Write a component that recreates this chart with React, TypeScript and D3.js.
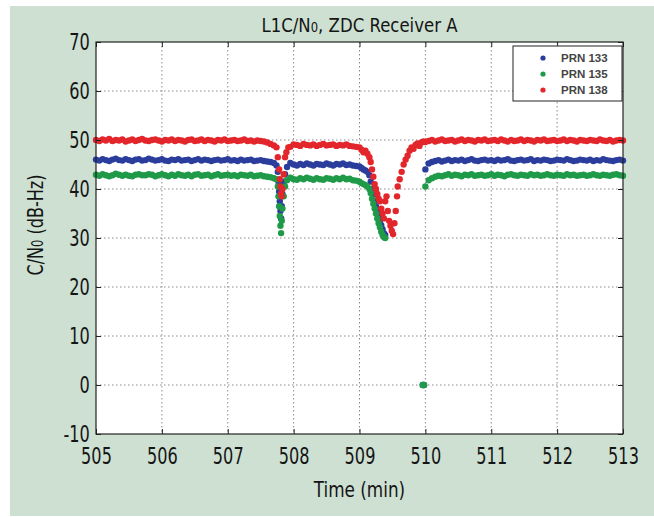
import React, { useEffect, useRef } from "react";
import * as d3 from "d3";

// tick labels and series names
const xTicks = [505, 506, 507, 508, 509, 510, 511, 512, 513];
const yTicks = [-10, 0, 10, 20, 30, 40, 50, 60, 70];
const seriesNames = ["PRN 133", "PRN 135", "PRN 138"];
const seriesColors = ["#2b3d9c", "#1f9a48", "#e3262b"];

// samples every 0.05 min from 505.00 to 513.00 (null = no steady sample there)
const sampleStart = 505;
const sampleStep = 0.05;

const prn133 = [
  46.0, 45.8, 46.1, 45.9, 45.7, 46.0, 46.2, 45.9, 45.8, 46.1,
  45.9, 45.7, 46.0, 46.1, 45.8, 45.9, 46.2, 46.0, 45.8, 45.9,
  46.1, 45.8, 45.7, 46.0, 45.9, 46.1, 45.8, 45.9, 46.0, 45.7,
  45.9, 46.1, 45.8, 46.0, 45.9, 45.7, 45.9, 46.0, 45.8, 45.9,
  46.1, 45.8, 45.9, 45.7, 46.0, 45.8, 45.9, 46.0, 45.7, 45.8,
  45.9, 45.7, 45.6, 45.5, 45.3,
  null, null, null, null,
  45.3, 45.0, 44.8, 45.1, 44.9, 45.2, 45.0, 44.8, 45.1, 45.0,
  44.9, 45.2, 45.0, 44.8, 45.1, 45.0, 45.2, 44.9, 45.0, 44.8, 44.7,
  null, null, null, null, null, null, null, null, null, null,
  null, null, null, null, null, null, null, null, null, null,
  44.0, 45.2, 45.5, 45.7, 45.9, 45.6, 45.8, 46.0, 45.7, 45.9,
  45.8, 46.0, 45.7, 45.9, 46.1, 45.8, 45.7, 45.9, 46.0, 45.8,
  45.9, 45.7, 46.0, 45.8, 45.9, 46.1, 45.8, 45.7, 45.9, 46.0,
  45.8, 45.9, 46.1, 45.7, 45.9, 45.8, 46.0, 45.9, 45.7, 45.8,
  46.0, 45.9, 45.8, 46.1, 45.9, 45.7, 45.8, 46.0, 45.9, 45.8,
  46.0, 45.7, 45.9, 45.8, 46.1, 45.9, 45.8, 45.7, 45.9, 46.0, 45.8,
];

const prn135 = [
  42.9, 42.7, 43.0, 42.8, 42.6, 42.8, 43.1, 42.9, 42.7, 42.9,
  42.7, 42.6, 42.9, 43.0, 42.8, 42.8, 43.0, 42.9, 42.6, 42.8,
  43.0, 42.8, 42.6, 42.9, 42.7, 43.0, 42.8, 42.7, 42.9, 42.6,
  42.9, 43.0, 42.7, 42.8, 42.9, 42.6, 42.8, 43.0, 42.7, 42.8,
  42.9, 42.7, 42.8, 42.6, 42.9, 42.8, 42.7, 42.9, 42.6, 42.7,
  42.8, 42.6, 42.5, 42.4, 42.2,
  null, null, null, null,
  42.3, 42.0, 41.9, 42.2, 42.0, 42.3, 42.1, 41.9, 42.2, 42.0,
  41.9, 42.2, 42.1, 41.9, 42.2, 42.0, 42.3, 42.0, 42.1, 41.8, 41.7,
  null, null, null, null, null, null, null, null, null, null,
  null, null, null, null, null, null, null, null, null, null,
  40.5, 41.8, 42.2, 42.5, 42.7, 42.6, 42.8, 43.0, 42.7, 42.9,
  42.8, 42.6, 42.9, 42.8, 43.0, 42.7, 42.8, 42.9, 42.7, 42.8,
  43.0, 42.7, 42.9, 42.8, 42.6, 42.9, 43.0, 42.8, 42.7, 42.9,
  42.8, 42.7, 43.0, 42.8, 42.9, 42.7, 42.8, 43.0, 42.8, 42.7,
  42.9, 42.8, 42.7, 43.0, 42.8, 42.9, 42.7, 42.8, 42.9, 42.7,
  42.8, 43.0, 42.8, 42.7, 42.9, 42.8, 42.7, 42.9, 43.0, 42.8, 42.7,
];

const prn138 = [
  50.0, 49.8, 50.1, 49.9, 50.2, 49.8, 50.0, 49.9, 50.1, 49.7,
  49.9, 50.1, 49.8, 50.0, 50.2, 49.9, 49.8, 50.0, 50.1, 49.9,
  49.7, 50.0, 49.9, 50.1, 49.8, 50.0, 49.9, 49.7, 50.0, 50.1,
  49.8, 49.9, 50.1, 49.8, 50.0, 49.9, 49.7, 50.0, 49.9, 50.1,
  49.8, 49.9, 50.0, 49.8, 49.9, 50.1, 49.8, 49.9, 49.7, 49.9,
  49.8, 49.7, 49.5, 49.2, 48.9,
  null, null, null, null,
  48.6, 49.1, 49.0, 48.8, 49.2, 49.0, 48.9, 49.1, 48.8, 49.0,
  49.2, 48.9, 49.0, 49.1, 48.8, 49.0, 48.9, 49.1, 48.8, 48.7, 48.6,
  null, null, null, null, null, null, null, null, null, null,
  null, null, null, null, null, null, null, null, null, null,
  49.6, 49.8, 50.0, 49.7, 49.9, 50.1, 49.8, 49.9, 50.0, 49.7,
  49.9, 50.1, 49.8, 50.0, 49.9, 49.7, 50.0, 49.9, 50.1, 49.8,
  49.9, 50.0, 49.8, 50.1, 49.9, 49.7, 50.0, 49.8, 49.9, 50.1,
  49.8, 50.0, 49.9, 49.7, 50.0, 49.9, 50.1, 49.8, 49.9, 50.0,
  49.8, 49.9, 50.1, 49.8, 50.0, 49.9, 49.7, 50.0, 49.9, 49.8,
  50.0, 49.9, 49.8, 50.1, 49.9, 49.8, 50.0, 49.7, 49.9, 50.0, 49.9,
];

// fades, read as [time, value]
const prn133Dips = [
  [507.74, 44.8], [507.76, 43.5], [507.77, 41.5], [507.78, 39.5], [507.79, 37.5],
  [507.8, 35.5], [507.81, 34.0], [507.82, 36.5], [507.83, 39.0], [507.85, 41.5],
  [507.87, 43.0], [507.9, 44.5],
  [509.0, 44.6], [509.03, 44.3], [509.06, 44.0], [509.09, 43.8], [509.12, 43.5],
  [509.15, 42.8], [509.17, 41.5], [509.19, 40.0], [509.21, 38.8], [509.23, 37.5],
  [509.25, 36.5], [509.27, 35.6], [509.29, 34.5], [509.31, 33.5], [509.33, 32.6],
  [509.35, 31.8], [509.37, 31.0], [509.39, 30.6],
  [509.96, 0], [509.98, 0],
];

const prn135Dips = [
  [507.74, 42.0], [507.76, 40.5], [507.77, 38.5], [507.78, 36.5], [507.79, 34.5],
  [507.8, 32.5], [507.81, 31.0], [507.82, 33.5], [507.83, 36.0], [507.85, 38.5],
  [507.87, 40.5], [507.9, 41.8],
  [509.0, 41.5], [509.03, 41.2], [509.06, 41.0], [509.09, 40.8], [509.12, 40.5],
  [509.15, 40.0], [509.17, 39.2], [509.19, 38.0], [509.21, 37.0], [509.23, 36.0],
  [509.25, 35.0], [509.27, 34.0], [509.29, 33.0], [509.31, 32.2], [509.33, 31.3],
  [509.35, 30.6], [509.37, 30.2], [509.39, 30.0],
  [509.96, 0], [509.98, 0],
];

const prn138Dips = [
  [507.74, 48.5], [507.76, 46.5], [507.78, 44.0], [507.79, 42.0], [507.8, 40.5],
  [507.81, 39.0], [507.82, 38.5], [507.83, 40.0], [507.85, 43.0], [507.87, 46.5],
  [507.89, 47.5], [507.92, 48.5],
  [509.0, 48.5], [509.03, 48.0], [509.06, 47.5], [509.09, 47.8], [509.12, 47.2],
  [509.15, 46.5], [509.17, 45.5], [509.19, 44.0], [509.21, 42.5], [509.23, 41.0],
  [509.25, 40.0], [509.27, 39.0], [509.29, 38.0], [509.31, 37.5], [509.33, 36.0],
  [509.35, 35.0], [509.37, 34.0], [509.39, 37.5], [509.41, 38.5], [509.43, 35.5],
  [509.45, 33.5], [509.47, 32.5], [509.49, 31.5], [509.51, 30.8], [509.53, 33.0],
  [509.55, 35.5], [509.57, 38.5], [509.58, 40.5], [509.61, 42.0], [509.64, 43.5],
  [509.67, 45.0], [509.7, 46.0], [509.73, 46.8], [509.76, 47.8], [509.79, 48.5],
  [509.82, 48.2], [509.85, 49.0], [509.88, 49.3], [509.91, 48.8], [509.94, 49.5],
  [509.97, 49.7],
];

const steady = [prn133, prn135, prn138];
const fades = [prn133Dips, prn135Dips, prn138Dips];

const W = 654, H = 517;
const margin = { top: 42, right: 31, bottom: 83, left: 96 };
const font = "'DejaVu Sans Condensed', 'Liberation Sans Narrow', sans-serif";

function Chart() {
  const ref = useRef(null);

  useEffect(() => {
    const svg = d3.select(ref.current);
    svg.selectAll("*").remove();

    const x = d3.scaleLinear().domain([505, 513]).range([margin.left, W - margin.right]);
    const y = d3.scaleLinear().domain([-10, 70]).range([H - margin.bottom, margin.top]);

    svg.append("rect").attr("x", 10).attr("y", 6).attr("width", W - 10).attr("height", H - 7).attr("fill", "#cde0d2");
    svg.append("rect")
      .attr("x", x(505)).attr("y", y(70))
      .attr("width", x(513) - x(505)).attr("height", y(-10) - y(70))
      .attr("fill", "#ffffff");

    // dotted grid
    const grid = svg.append("g").attr("stroke", "#8a8a8a").attr("stroke-width", 1).attr("stroke-dasharray", "1.5,2.5");
    grid.selectAll(".gx").data(xTicks.slice(1, -1)).enter().append("line")
      .attr("x1", d => x(d)).attr("x2", d => x(d)).attr("y1", y(70)).attr("y2", y(-10));
    grid.selectAll(".gy").data(yTicks.slice(1, -1)).enter().append("line")
      .attr("y1", d => y(d)).attr("y2", d => y(d)).attr("x1", x(505)).attr("x2", x(513));

    // points
    seriesNames.forEach((name, k) => {
      const pts = [];
      steady[k].forEach((v, i) => {
        if (v !== null) pts.push([sampleStart + i * sampleStep, v]);
      });
      fades[k].forEach(p => pts.push(p));
      svg.append("g").attr("fill", seriesColors[k])
        .selectAll("circle").data(pts).enter().append("circle")
        .attr("cx", d => x(d[0])).attr("cy", d => y(d[1])).attr("r", 3.2);
    });

    // axes, ticks pointing inward; labels squeezed to a narrow face
    const styleAxis = (g) => {
      g.select(".domain").remove();
      g.selectAll("line").attr("stroke", "#222");
      g.selectAll("text").attr("font-family", font).attr("font-size", 23).attr("fill", "#151515")
        .attr("transform", "scale(0.78,1)");
    };
    const plain = (d) => String(d);
    svg.append("g").attr("transform", `translate(0,${y(-10)})`)
      .call(d3.axisBottom(x).tickValues(xTicks).tickFormat(plain).tickSizeInner(-5).tickSizeOuter(0).tickPadding(14))
      .call(styleAxis);
    svg.append("g").attr("transform", `translate(${x(505)},0)`)
      .call(d3.axisLeft(y).tickValues(yTicks).tickFormat(plain).tickSizeInner(-5).tickSizeOuter(0).tickPadding(8))
      .call(styleAxis);
    svg.append("g").attr("transform", `translate(0,${y(70)})`)
      .call(d3.axisTop(x).tickValues(xTicks).tickSizeInner(-5).tickSizeOuter(0).tickFormat(() => ""))
      .call(styleAxis);
    svg.append("g").attr("transform", `translate(${x(513)},0)`)
      .call(d3.axisRight(y).tickValues(yTicks).tickSizeInner(-5).tickSizeOuter(0).tickFormat(() => ""))
      .call(styleAxis);

    svg.append("rect")
      .attr("x", x(505)).attr("y", y(70))
      .attr("width", x(513) - x(505)).attr("height", y(-10) - y(70))
      .attr("fill", "none").attr("stroke", "#222").attr("stroke-width", 1.2);

    // legend
    const lg = svg.append("g").attr("transform", "translate(513,46)");
    lg.append("rect").attr("width", 109).attr("height", 55).attr("fill", "#fff").attr("stroke", "#222");
    seriesNames.forEach((name, k) => {
      const row = lg.append("g").attr("transform", `translate(0,${12 + k * 16})`);
      row.append("circle").attr("cx", 30).attr("cy", 0).attr("r", 2.6).attr("fill", seriesColors[k]);
      row.append("text").attr("x", 48).attr("y", 4).text(name)
        .attr("font-family", "'Liberation Sans', Arial, sans-serif").attr("font-size", 11.5)
        .attr("font-weight", "bold").attr("fill", "#444");
    });

    // title and labels
    const title = svg.append("text")
      .attr("transform", `translate(${(x(505) + x(513)) / 2},32) scale(0.92,1)`)
      .attr("text-anchor", "middle").attr("font-family", font).attr("font-size", 20).attr("fill", "#151515");
    title.append("tspan").text("L1C/N");
    title.append("tspan").attr("font-size", 14).text("0");
    title.append("tspan").text(", ZDC Receiver A");

    svg.append("text")
      .attr("transform", `translate(${(x(505) + x(513)) / 2},497) scale(0.85,1)`)
      .attr("text-anchor", "middle").attr("font-family", font).attr("font-size", 22).attr("fill", "#151515")
      .text("Time (min)");

    const yl = svg.append("text").attr("transform", "translate(43,225) rotate(-90) scale(0.85,1)")
      .attr("text-anchor", "middle").attr("font-family", font).attr("font-size", 21).attr("fill", "#151515");
    yl.append("tspan").text("C/N");
    yl.append("tspan").attr("font-size", 15).text("0");
    yl.append("tspan").text(" (dB-Hz)");
  }, []);

  return <svg ref={ref} width={W} height={H} style={{ position: "absolute", left: 0, top: 0, background: "#fff" }} />;
}

export default function App() {
  return <Chart />;
}
